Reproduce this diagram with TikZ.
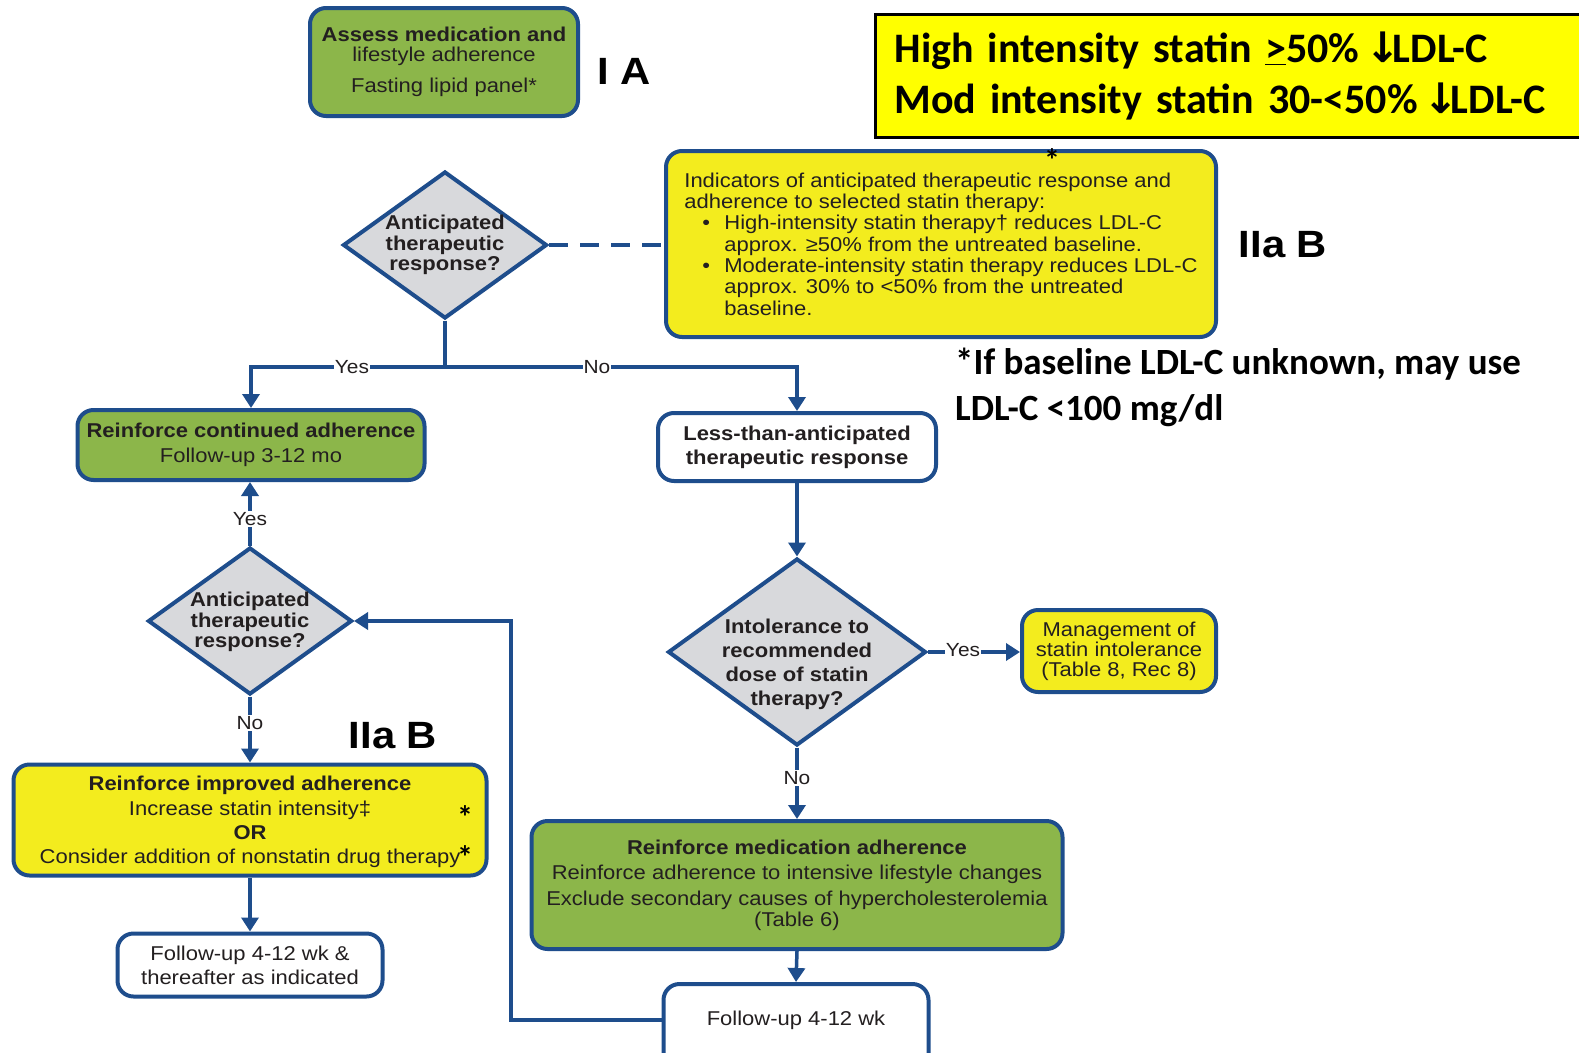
\documentclass[tikz,border=0pt]{standalone}
\usepackage{fontspec}
\setmainfont[FakeStretch=1.1]{Liberation Sans}
\newfontfamily\califont{Carlito}
\newfontfamily\arrowsans{DejaVu Sans}
\usetikzlibrary{arrows.meta,shapes.geometric,calc}

\definecolor{flowblue}{RGB}{30,77,140}
\definecolor{boxgreen}{RGB}{140,182,74}
\definecolor{boxyellow}{RGB}{243,236,30}
\definecolor{notegold}{RGB}{255,255,0}
\definecolor{qgrey}{RGB}{216,217,220}
\definecolor{inktext}{RGB}{35,31,32}

\newcommand\downarrowglyph{\makebox[0.46em][c]{\arrowsans\bfseries ↓}}

\begin{document}
\begin{tikzpicture}[x=1pt,y=-1pt,
  box/.style={draw=flowblue, line width=4pt, rounded corners=16pt, inner sep=0pt, align=center, text=inktext},
  greenbox/.style={box, fill=boxgreen},
  yellowbox/.style={box, fill=boxyellow},
  whitebox/.style={box, fill=white},
  question/.style={diamond, draw=flowblue, line width=4pt, fill=qgrey, inner sep=0pt, minimum width=204pt, minimum height=147pt},
  qtext/.style={align=center, text=inktext, inner sep=0pt, font=\bfseries\fontsize{20}{20.5}\selectfont},
  flow/.style={draw=flowblue, line width=3.5pt, -{Triangle[width=17pt,length=14pt]}},
  link/.style={draw=flowblue, line width=3.5pt},
  branch/.style={fill=white, inner sep=1pt, text=inktext, font=\fontsize{19}{19}\selectfont},
  grade/.style={font=\bfseries\fontsize{38}{38}\selectfont, inner sep=0pt},
  star/.style={font=\califont\bfseries\fontsize{32}{32}\selectfont, inner sep=0pt},
]
\useasboundingbox (0,0) rectangle (1579,1052);
\fill[white] (0,0) rectangle (1579,1052);
\clip (0,0) rectangle (1579,1052);

% ---- top of the chart
\node[greenbox, minimum width=268pt, minimum height=108pt, font=\fontsize{20}{20}\selectfont] (assess) at (444,62) {};
\node[align=center, text=inktext, inner sep=0pt, font=\fontsize{20}{20}\selectfont] (assesst) at (444,62)
  {\bfseries Assess medication and\\lifestyle adherence\\[11pt]\mdseries Fasting lipid panel*};
\node[grade] (gradeA) at (624,71) {I A};

\node[draw=black, line width=3pt, fill=notegold, anchor=north west, minimum width=726pt, minimum height=123pt,
      inner xsep=19pt, text width=688pt, align=left, font=\califont\bfseries\fontsize{42}{51}\selectfont] (intensity) at (874,13)
  {High intensity statin \underline{>}50\% \downarrowglyph LDL-C\\Mod intensity statin 30-<50\% \downarrowglyph LDL-C};

% ---- first decision and indicator box
\node[question] (q1) at (445,245) {};
\node[qtext] (q1t) at (445,245) {Anticipated\\therapeutic\\response?};

\node[yellowbox, minimum width=550pt, minimum height=186pt, align=left,
      font=\fontsize{20}{21.3}\selectfont] (ind) at (941,244)
  {Indicators of anticipated therapeutic response and\\
   adherence to selected statin therapy:\\
   \hspace*{18pt}\makebox[22pt][l]{\textbullet}High-intensity statin therapy† reduces LDL-C\\
   \hspace*{40pt}approx. ≥50\% from the untreated baseline.\\
   \hspace*{18pt}\makebox[22pt][l]{\textbullet}Moderate-intensity statin therapy reduces LDL-C\\
   \hspace*{40pt}approx. 30\% to <50\% from the untreated\\
   \hspace*{40pt}baseline.};
\node[star] (starA) at (1052,160) {*};
\node[grade] (gradeB1) at (1283,245) {IIa B};

\draw[link, dash pattern=on 19pt off 12pt] (q1.east) -- (q1.east -| ind.west);

% ---- split into the two branches
\coordinate (split) at (445,367);
\node[greenbox, minimum width=347pt, minimum height=70pt, font=\fontsize{20}{25}\selectfont] (cont) at (251,445)
  {\bfseries Reinforce continued adherence\\\mdseries Follow-up 3-12 mo};
\node[whitebox, minimum width=278pt, minimum height=68pt, font=\bfseries\fontsize{20}{24}\selectfont] (less) at (797,447)
  {Less-than-anticipated\\therapeutic response};

\draw[link] (q1.south) -- (split);
\draw[flow] (split) -| (cont.north);
\draw[flow] (split) -| (less.north);
\node[branch] (yes1) at (352,367) {Yes};
\node[branch] (no1) at (597,367) {No};

\node[anchor=west, align=left, inner sep=0pt, font=\califont\bfseries\fontsize{37}{46}\selectfont] (baseline) at (955,387)
  {*If baseline LDL-C unknown, may use\\LDL-C <100 mg/dl};

% ---- right branch
\node[question, minimum width=258pt, minimum height=187pt] (q2) at (797,652) {};
\node[qtext, font=\bfseries\fontsize{20}{24}\selectfont] (q2t) at (797,664)
  {Intolerance to\\recommended\\dose of statin\\therapy?};
\draw[flow] (less.south) -- (q2.north);

\node[yellowbox, minimum width=194pt, minimum height=82pt, font=\fontsize{20}{20}\selectfont] (mgmt) at (1119,651)
  {Management of\\statin intolerance\\(Table 8, Rec 8)};
\draw[flow] (q2.east) -- (q2.east -| mgmt.west);
\node[branch] (yes2) at (963,650) {Yes};

\node[greenbox, minimum width=531pt, minimum height=128pt, font=\fontsize{20}{25.5}\selectfont] (med) at (797,885)
  {\bfseries Reinforce medication adherence\\\mdseries Reinforce adherence to intensive lifestyle changes\\
   Exclude secondary causes of hypercholesterolemia\\[-4.5pt](Table 6)};
\draw[flow] (q2.south) -- (med.north);
\node[branch] (no2) at (797,778) {No};

\node[whitebox, minimum width=265pt, minimum height=90pt] (fuR) at (796,1029) {};
\node[text=inktext, inner sep=0pt, font=\fontsize{20}{20}\selectfont] (fuRt) at (796,1020) {Follow-up 4-12 wk};
\draw[flow] (med.south) -- (fuR.north);

% ---- left branch, fed back from the right follow-up
\node[question] (q3) at (250,621) {};
\node[qtext] (q3t) at (250,622) {Anticipated\\therapeutic\\response?};
\coordinate (loopbend) at (511,621);
\draw[flow] (fuR.west |- fuRt) -| (loopbend) -- (q3.east);

\draw[flow] (q3.north) -- (q3.north |- cont.south);
\node[branch] (yes3) at (250,519) {Yes};

\node[yellowbox, minimum width=473pt, minimum height=111pt] (impr) at (250,820) {};
\node[align=center, text=inktext, inner sep=0pt, font=\fontsize{20}{24.3}\selectfont] (imprt) at (250,822)
  {\bfseries Reinforce improved adherence\\\mdseries Increase statin intensity‡\\\bfseries OR\\\mdseries Consider addition of nonstatin drug therapy};
\draw[flow] (q3.south) -- (impr.north);
\node[branch] (no3) at (250,723) {No};
\node[grade] (gradeB2) at (393,736) {IIa B};
\node[star] (starB) at (465,817) {*};
\node[star] (starC) at (465,857) {*};

\node[whitebox, minimum width=265pt, minimum height=63pt, font=\fontsize{20}{24}\selectfont] (fuL) at (250,965)
  {Follow-up 4-12 wk \&\\thereafter as indicated};
\draw[flow] (impr.south) -- (fuL.north);
\end{tikzpicture}
\end{document}
